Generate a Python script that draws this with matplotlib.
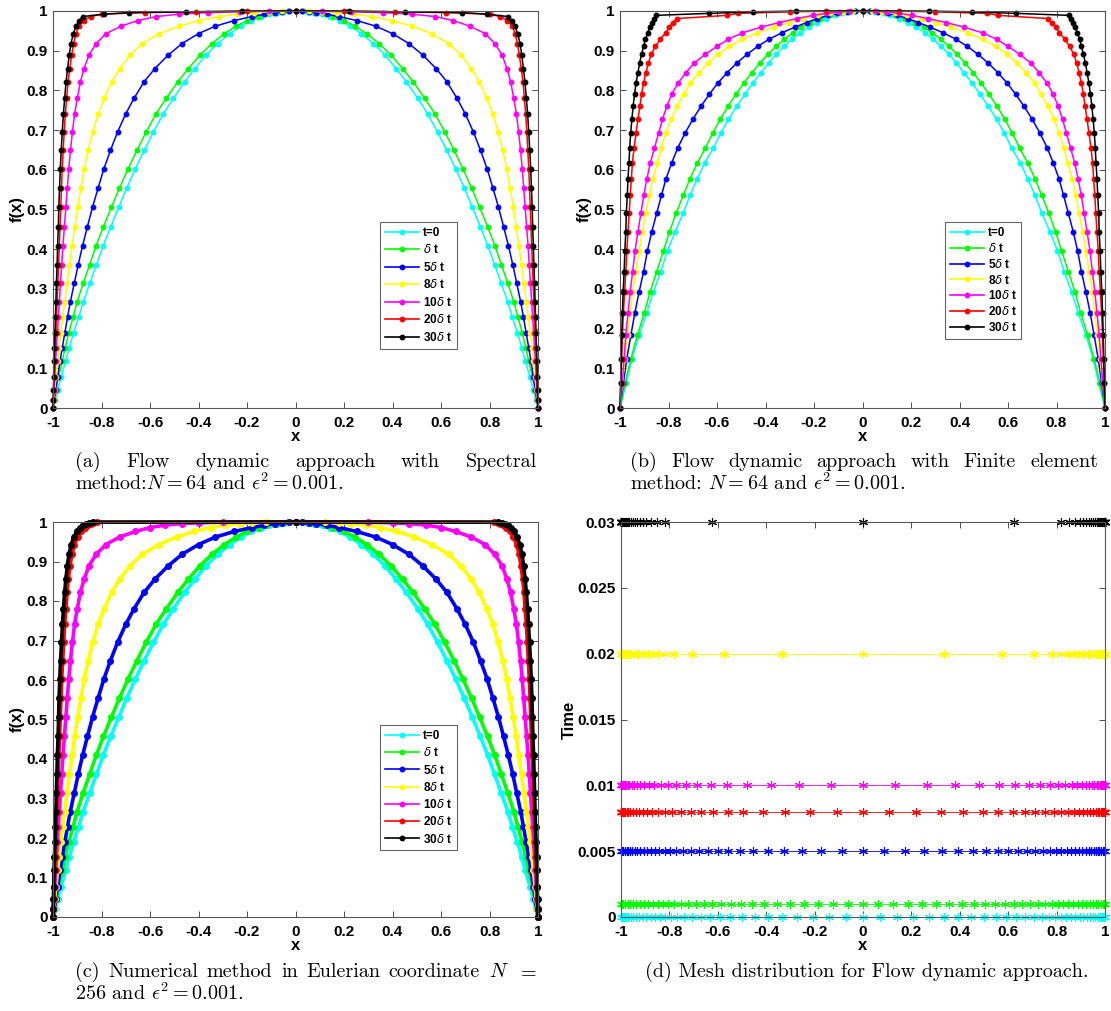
import numpy as np
import matplotlib
matplotlib.use("Agg")
import matplotlib.pyplot as plt
from matplotlib.lines import Line2D
from matplotlib.font_manager import FontProperties

# ---------------- data ----------------
LABELS = ["t=0", r"$\delta$ t", r"5$\delta$ t", r"8$\delta$ t", r"10$\delta$ t", r"20$\delta$ t", r"30$\delta$ t"]
COLORS = ["#00ffff", "#00ff00", "#0000ff", "#ffff00", "#ff00ff", "#ff0000", "#000000"]

X_TICKS = [-1, -0.8, -0.6, -0.4, -0.2, 0, 0.2, 0.4, 0.6, 0.8, 1]
X_TICKLABELS = ["-1", "-0.8", "-0.6", "-0.4", "-0.2", "0", "0.2", "0.4", "0.6", "0.8", "1"]
F_TICKS = [0, 0.1, 0.2, 0.3, 0.4, 0.5, 0.6, 0.7, 0.8, 0.9, 1]
F_TICKLABELS = ["0", "0.1", "0.2", "0.3", "0.4", "0.5", "0.6", "0.7", "0.8", "0.9", "1"]
T_TICKS = [0, 0.005, 0.01, 0.015, 0.02, 0.025, 0.03]
T_TICKLABELS = ["0", "0.005", "0.01", "0.015", "0.02", "0.025", "0.03"]

# (a) spectral: f levels carried by the moving nodes, node x on left half (-1 .. 0)
LEVELS_A = [0, 0.02, 0.045, 0.077, 0.118, 0.151, 0.19, 0.229, 0.266, 0.315, 0.361, 0.409, 0.457,
            0.506, 0.554, 0.603, 0.649, 0.695, 0.741, 0.78, 0.822, 0.855, 0.889, 0.918, 0.943,
            0.962, 0.976, 0.986, 0.992, 0.996, 0.998, 0.9995, 1.0]
A_T0 = [-1, -0.991, -0.981, -0.967, -0.948, -0.933, -0.915, -0.894, -0.876, -0.848, -0.821, -0.793, -0.762,
        -0.729, -0.696, -0.660, -0.624, -0.586, -0.545, -0.504, -0.457, -0.415, -0.369, -0.321, -0.271,
        -0.225, -0.182, -0.141, -0.108, -0.077, -0.053, -0.027, 0]
A_DT = [-1, -0.995, -0.989, -0.978, -0.962, -0.950, -0.935, -0.917, -0.901, -0.875, -0.849, -0.822, -0.792,
        -0.759, -0.726, -0.690, -0.654, -0.616, -0.575, -0.533, -0.485, -0.442, -0.394, -0.345, -0.293,
        -0.245, -0.200, -0.156, -0.120, -0.087, -0.061, -0.031, 0]
A_5DT = [-1, -0.995, -0.989, -0.981, -0.971, -0.962, -0.951, -0.940, -0.929, -0.912, -0.896, -0.878, -0.858,
         -0.837, -0.814, -0.790, -0.763, -0.734, -0.700, -0.666, -0.624, -0.580, -0.525, -0.468, -0.400,
         -0.330, -0.252, -0.180, -0.128, -0.085, -0.055, -0.027, 0]
A_8DT = [-1, -0.997, -0.993, -0.988, -0.981, -0.975, -0.968, -0.960, -0.952, -0.942, -0.932, -0.921, -0.910,
         -0.898, -0.885, -0.871, -0.855, -0.836, -0.814, -0.789, -0.758, -0.725, -0.683, -0.632, -0.562,
         -0.480, -0.398, -0.315, -0.240, -0.170, -0.110, -0.055, 0]
A_10DT = [-1, -0.998, -0.996, -0.993, -0.989, -0.986, -0.982, -0.978, -0.974, -0.969, -0.964, -0.959, -0.953,
          -0.947, -0.941, -0.935, -0.928, -0.920, -0.911, -0.900, -0.887, -0.872, -0.852, -0.822, -0.782,
          -0.718, -0.650, -0.575, -0.480, -0.360, -0.230, -0.110, 0]
A_20DT = [-1, -0.9985, -0.997, -0.995, -0.993, -0.991, -0.988, -0.986, -0.983, -0.980, -0.977, -0.974, -0.971,
          -0.968, -0.965, -0.962, -0.958, -0.954, -0.949, -0.944, -0.938, -0.931, -0.923, -0.915, -0.906,
          -0.893, -0.874, -0.845, -0.800, -0.620, -0.410, -0.200, 0]
A_30DT = [-1, -0.9993, -0.9985, -0.997, -0.996, -0.994, -0.992, -0.990, -0.988, -0.986, -0.983, -0.981, -0.978,
          -0.976, -0.973, -0.970, -0.966, -0.962, -0.957, -0.952, -0.946, -0.940, -0.933, -0.926, -0.916,
          -0.905, -0.892, -0.877, -0.790, -0.687, -0.450, -0.220, 0]

# (b) finite element
LEVELS_B = [0, 0.063, 0.124, 0.184, 0.239, 0.293, 0.343, 0.396, 0.444, 0.49, 0.536, 0.578, 0.617, 0.655,
            0.692, 0.727, 0.76, 0.79, 0.818, 0.845, 0.869, 0.891, 0.911, 0.929, 0.945, 0.959, 0.971,
            0.981, 0.989, 0.994, 0.998, 0.9995, 1.0]
B_T0 = [-1, -0.974, -0.951, -0.921, -0.890, -0.862, -0.832, -0.804, -0.773, -0.740, -0.711, -0.681, -0.651,
        -0.615, -0.585, -0.553, -0.519, -0.485, -0.453, -0.418, -0.387, -0.357, -0.324, -0.290, -0.258,
        -0.222, -0.188, -0.152, -0.115, -0.083, -0.050, -0.025, 0]
B_DT = [-1, -0.979, -0.955, -0.928, -0.900, -0.876, -0.849, -0.821, -0.796, -0.769, -0.739, -0.711, -0.681,
        -0.648, -0.618, -0.587, -0.555, -0.522, -0.490, -0.456, -0.423, -0.390, -0.357, -0.322, -0.288,
        -0.252, -0.215, -0.176, -0.135, -0.097, -0.060, -0.030, 0]
B_5DT = [-1, -0.986, -0.972, -0.955, -0.939, -0.921, -0.903, -0.887, -0.869, -0.849, -0.829, -0.810, -0.787,
         -0.762, -0.732, -0.700, -0.666, -0.632, -0.597, -0.558, -0.518, -0.476, -0.432, -0.385, -0.333,
         -0.280, -0.230, -0.186, -0.142, -0.105, -0.065, -0.030, 0]
B_8DT = [-1, -0.990, -0.980, -0.969, -0.958, -0.948, -0.935, -0.921, -0.908, -0.894, -0.879, -0.865, -0.846,
         -0.830, -0.812, -0.790, -0.765, -0.738, -0.710, -0.675, -0.636, -0.596, -0.549, -0.495, -0.435,
         -0.365, -0.303, -0.245, -0.182, -0.132, -0.080, -0.040, 0]
B_10DT = [-1, -0.991, -0.983, -0.976, -0.967, -0.958, -0.948, -0.938, -0.926, -0.914, -0.902, -0.889, -0.875,
          -0.858, -0.841, -0.825, -0.807, -0.787, -0.761, -0.728, -0.694, -0.648, -0.600, -0.553, -0.495,
          -0.420, -0.345, -0.270, -0.205, -0.150, -0.095, -0.050, 0]
B_20DT = [-1, -0.997, -0.993, -0.990, -0.986, -0.981, -0.976, -0.972, -0.967, -0.962, -0.958, -0.953, -0.949,
          -0.942, -0.934, -0.926, -0.918, -0.911, -0.903, -0.893, -0.883, -0.871, -0.854, -0.834, -0.812,
          -0.797, -0.783, -0.765, -0.560, -0.515, -0.300, -0.150, 0]
B_30DT = [-1, -0.997, -0.995, -0.993, -0.990, -0.987, -0.983, -0.980, -0.976, -0.974, -0.970, -0.967, -0.963,
          -0.960, -0.956, -0.951, -0.946, -0.940, -0.934, -0.926, -0.919, -0.911, -0.903, -0.895, -0.886,
          -0.877, -0.868, -0.860, -0.853, -0.633, -0.450, -0.275, 0]

# (c) Eulerian reference: curve crossings x at the f levels (left half)
LEVELS_C = LEVELS_A
C_T0 = A_T0
C_DT = A_DT
C_5DT = A_5DT
C_8DT = [-1, -0.997, -0.993, -0.988, -0.981, -0.975, -0.968, -0.960, -0.952, -0.942, -0.932, -0.921, -0.910,
         -0.898, -0.885, -0.871, -0.855, -0.836, -0.814, -0.789, -0.758, -0.725, -0.683, -0.632, -0.562,
         -0.490, -0.420, -0.350, -0.290, -0.230, -0.180, -0.120, 0]
C_10DT = [-1, -0.998, -0.996, -0.993, -0.989, -0.986, -0.982, -0.978, -0.974, -0.969, -0.964, -0.959, -0.953,
          -0.947, -0.941, -0.935, -0.928, -0.920, -0.911, -0.900, -0.887, -0.872, -0.852, -0.822, -0.782,
          -0.725, -0.660, -0.600, -0.540, -0.470, -0.400, -0.300, 0]
C_20DT = [-1, -0.9985, -0.997, -0.995, -0.993, -0.991, -0.989, -0.987, -0.985, -0.982, -0.979, -0.976, -0.973,
          -0.970, -0.967, -0.964, -0.960, -0.956, -0.952, -0.947, -0.942, -0.937, -0.930, -0.922, -0.912,
          -0.898, -0.884, -0.869, -0.857, -0.845, -0.835, -0.820, 0]
C_30DT = [-1, -0.9993, -0.9985, -0.997, -0.996, -0.994, -0.992, -0.990, -0.988, -0.986, -0.984, -0.982, -0.979,
          -0.977, -0.975, -0.972, -0.969, -0.965, -0.961, -0.957, -0.952, -0.947, -0.941, -0.934, -0.925,
          -0.914, -0.902, -0.889, -0.877, -0.864, -0.852, -0.835, 0]

# (d) mesh nodes (right half, 0 .. 1) at each output time
D_TIMES = [0, 0.001, 0.005, 0.008, 0.01, 0.02, 0.03]
D_COLORS = ["#00ffff", "#00ff00", "#0000ff", "#ff0000", "#ff00ff", "#ffff00", "#000000"]
D_T0 = [0, 0.07, 0.139, 0.207, 0.272, 0.334, 0.393, 0.448, 0.5, 0.548, 0.592, 0.633, 0.671, 0.706, 0.738,
        0.767, 0.794, 0.818, 0.84, 0.86, 0.878, 0.895, 0.91, 0.924, 0.937, 0.949, 0.96, 0.97, 0.979, 0.987,
        0.993, 0.997, 1]
D_DT = [0, 0.062, 0.124, 0.185, 0.244, 0.301, 0.356, 0.408, 0.457, 0.503, 0.546, 0.586, 0.624, 0.659, 0.692,
        0.723, 0.752, 0.779, 0.804, 0.827, 0.849, 0.869, 0.888, 0.905, 0.921, 0.936, 0.949, 0.961, 0.972,
        0.982, 0.99, 0.996, 1]
D_5DT = [0, 0.085, 0.172, 0.253, 0.327, 0.393, 0.455, 0.508, 0.556, 0.6, 0.641, 0.678, 0.712, 0.743, 0.771,
         0.797, 0.82, 0.841, 0.86, 0.877, 0.893, 0.907, 0.92, 0.932, 0.943, 0.953, 0.962, 0.97, 0.977, 0.984,
         0.99, 0.995, 1]
D_8DT = [0, 0.107, 0.221, 0.323, 0.415, 0.494, 0.559, 0.618, 0.668, 0.712, 0.752, 0.788, 0.82, 0.848, 0.872,
         0.893, 0.911, 0.927, 0.94, 0.952, 0.962, 0.97, 0.977, 0.983, 0.987, 0.991, 0.994, 0.996, 0.9975,
         0.9985, 0.9993, 0.9998, 1]
D_10DT = [0, 0.133, 0.263, 0.38, 0.48, 0.562, 0.628, 0.686, 0.732, 0.772, 0.806, 0.836, 0.862, 0.884, 0.903,
          0.92, 0.934, 0.946, 0.956, 0.965, 0.972, 0.978, 0.983, 0.987, 0.99, 0.993, 0.995, 0.9965, 0.998,
          0.9988, 0.9994, 0.9998, 1]
D_20DT = [0, 0.336, 0.576, 0.707, 0.78, 0.82, 0.848, 0.87, 0.888, 0.905, 0.918, 0.93, 0.94, 0.949, 0.957,
          0.964, 0.97, 0.975, 0.98, 0.984, 0.987, 0.99, 0.992, 0.994, 0.9955, 0.997, 0.998, 0.9987, 0.9992,
          0.9996, 0.9998, 0.9999, 1]
D_30DT = [0, 0.623, 0.82, 0.852, 0.875, 0.895, 0.91, 0.923, 0.934, 0.944, 0.952, 0.959, 0.965, 0.97, 0.975,
          0.979, 0.983, 0.986, 0.989, 0.991, 0.993, 0.995, 0.996, 0.997, 0.998, 0.9986, 0.999, 0.9994, 0.9996,
          0.9998, 0.9999, 0.99995, 1]

# ---------------- helpers ----------------
W, H = 1111, 1011
TICKFONT = FontProperties(family="Liberation Sans", weight="bold", size=11)
LABELFONT = FontProperties(family="Liberation Sans", weight="bold", size=12)
LEGFONT = FontProperties(family="Liberation Sans", weight="bold", size=8.5)
CAPSIZE = 14.5

plt.rcParams["mathtext.fontset"] = "cm"


def mirror_left(xh, yh):
    xh = np.asarray(xh, float)
    yh = np.asarray(yh, float)
    return np.concatenate([xh, -xh[-2::-1]]), np.concatenate([yh, yh[-2::-1]])


def mirror_right(r):
    r = np.asarray(r, float)
    return np.concatenate([-r[:0:-1], r])


def px_axes(l, t, r, b):
    return fig.add_axes([l / W, 1 - b / H, (r - l) / W, (b - t) / H])


def style(ax, yticks, ylabels, ylim, ylabel, ylabelpad=1):
    ax.set_xlim(-1, 1)
    ax.set_ylim(*ylim)
    ax.set_xticks(X_TICKS)
    ax.set_xticklabels(X_TICKLABELS, fontproperties=TICKFONT)
    ax.set_yticks(yticks)
    ax.set_yticklabels(ylabels, fontproperties=TICKFONT)
    ax.tick_params(direction="in", length=4, width=0.6, top=True, right=True, colors="#333333")
    ax.tick_params(axis="x", pad=6)
    ax.tick_params(axis="y", pad=4)
    for lab in ax.get_xticklabels() + ax.get_yticklabels():
        lab.set_color("black")
    for s in ax.spines.values():
        s.set_color("#555555")
        s.set_linewidth(0.8)
    ax.set_xlabel("x", fontproperties=LABELFONT, labelpad=-1)
    ax.set_ylabel(ylabel, fontproperties=LABELFONT, labelpad=ylabelpad)


def profile_panel(ax, levels, curves, lw, ms, legend_center, spacing):
    for xs, col in zip(curves, COLORS):
        x, y = mirror_left(xs, levels)
        ax.plot(x, y, "-", color=col, lw=lw, marker="o", ms=ms, mec=col, mfc=col, clip_on=False)
    style(ax, F_TICKS, F_TICKLABELS, (0, 1), "f(x)")
    handles = [Line2D([], [], color=c, lw=1.2, marker="o", ms=3.2) for c in COLORS]
    leg = ax.legend(handles, LABELS, loc="center", bbox_to_anchor=legend_center, prop=LEGFONT,
                    handlelength=2.9, handletextpad=0.3, labelspacing=spacing, borderpad=0.4,
                    borderaxespad=0, fancybox=False, edgecolor="#666666", framealpha=1, numpoints=1)
    leg.get_frame().set_linewidth(0.8)


fig = plt.figure(figsize=(W / 100, H / 100), dpi=100)

axa = px_axes(53, 11, 538, 408)
profile_panel(axa, LEVELS_A, [A_T0, A_DT, A_5DT, A_8DT, A_10DT, A_20DT, A_30DT], 1.1, 3.2,
              (0.754, 0.309), 0.38)

axb = px_axes(620, 11, 1105, 408)
profile_panel(axb, LEVELS_B, [B_T0, B_DT, B_5DT, B_8DT, B_10DT, B_20DT, B_30DT], 1.1, 3.2,
              (0.749, 0.321), 0.24)

axc = px_axes(53, 522, 538, 917)
profile_panel(axc, LEVELS_C, [C_T0, C_DT, C_5DT, C_8DT, C_10DT, C_20DT, C_30DT], 2.6, 4.0,
              (0.754, 0.327), 0.36)

axd = px_axes(621, 522, 1105, 917)
for r, t, col in zip([D_T0, D_DT, D_5DT, D_8DT, D_10DT, D_20DT, D_30DT], D_TIMES, D_COLORS):
    x = mirror_right(r)
    axd.plot(x, np.full(x.shape, t), "-", color=col, lw=0.6, marker=(6, 2, 0), ms=6.5, mew=0.8,
             clip_on=False)
style(axd, T_TICKS, T_TICKLABELS, (0, 0.03), "Time", ylabelpad=0.5)

# ---------------- captions ----------------
renderer = fig.canvas.get_renderer()


def cap_text(x, y, s, ha="left"):
    return fig.text(x / W, 1 - y / H, s, fontsize=CAPSIZE, family="cmr10", ha=ha, va="baseline")


def justified(words, x0, x1, y):
    ts = [cap_text(0, y, w) for w in words]
    widths = [t.get_window_extent(renderer).width for t in ts]
    gap = (x1 - x0 - sum(widths)) / (len(words) - 1)
    x = x0
    for t, w in zip(ts, widths):
        t.set_x(x / W)
        x += w + gap


justified(["(a)", "Flow", "dynamic", "approach", "with", "Spectral"], 75, 537, 467)
cap_text(75, 490, r"method:$N = 64$ and $\epsilon^2 = 0.001$.")
justified(["(b)", "Flow", "dynamic", "approach", "with", "Finite", "element"], 630, 1098, 467)
cap_text(630, 490, r"method: $N = 64$ and $\epsilon^2 = 0.001$.")
justified(["(c)", "Numerical", "method", "in", "Eulerian", "coordinate", r"$N$", r"$=$"], 75, 537, 977)
cap_text(75, 1000, r"256 and $\epsilon^2 = 0.001$.")
cap_text(867, 977, "(d) Mesh distribution for Flow dynamic approach.", ha="center")

fig.savefig("out.png", dpi=100)
